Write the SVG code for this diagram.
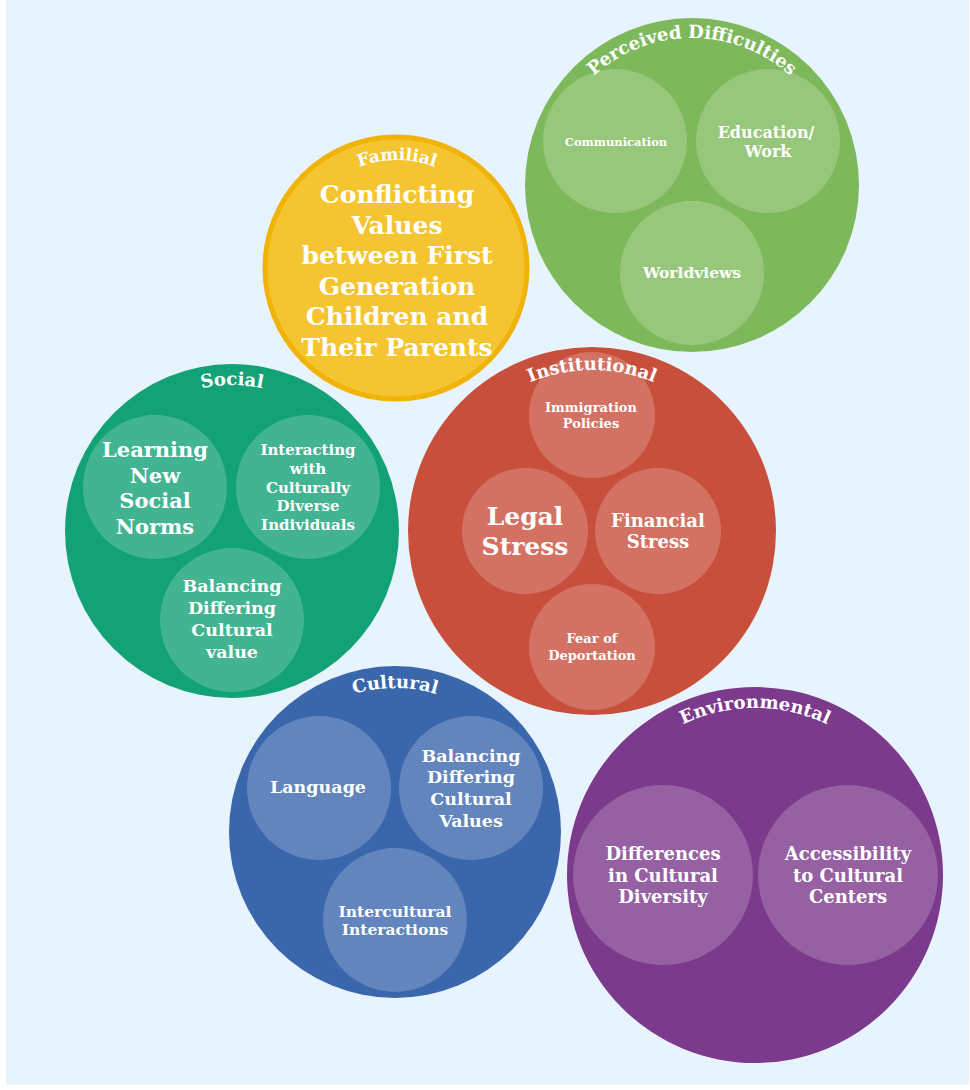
<svg xmlns="http://www.w3.org/2000/svg" width="970" height="1090" viewBox="0 0 970 1090">
<style>
text{font-family:"DejaVu Serif","Liberation Serif",serif;font-weight:bold;fill:#ffffff;text-anchor:middle}
.lbl{font-size:18px}
.inner{fill-opacity:0.2;fill:#ffffff}
</style>
<defs>
<path id="arcPD" d="M545,185 A147,147 0 0 1 839,185"/>
<path id="arcFa" d="M289,268 A108,108 0 0 1 505,268"/>
<path id="arcSo" d="M86,531 A146,146 0 0 1 378,531"/>
<path id="arcIn" d="M431,531 A161,161 0 0 1 753,531"/>
<path id="arcCu" d="M251,832 A144,144 0 0 1 539,832"/>
<path id="arcEn" d="M588,875 A167,167 0 0 1 922,875"/>
</defs>
<rect x="0" y="0" width="970" height="1090" fill="#ffffff"/>
<rect x="6" y="0" width="963" height="1085" fill="#E8F4FD"/>
<g id="connectors"/>
<g id="perceived">
<circle cx="692" cy="185" r="167" fill="#7DB95B"/>
<circle class="inner" cx="615" cy="141" r="72"/>
<circle class="inner" cx="768" cy="141" r="72"/>
<circle class="inner" cx="692" cy="273" r="72"/>
<text class="lbl" font-size="17.5"><textPath href="#arcPD" startOffset="50%">Perceived Difficulties</textPath></text>
<text x="616" y="146" font-size="11.5">Communication</text>
<text x="766" y="138" font-size="16">Education/</text>
<text x="768" y="157" font-size="16">Work</text>
<text x="692" y="278" font-size="15.5">Worldviews</text>
</g>
<g id="familial">
<circle cx="396" cy="268" r="131" fill="#F4C531" stroke="#EFB30A" stroke-width="5"/>
<text style="font-size:17px"><textPath href="#arcFa" startOffset="50%">Familial</textPath></text>
<text x="397" y="203" font-size="25">Conflicting</text>
<text x="397" y="233.5" font-size="25">Values</text>
<text x="397" y="264" font-size="25">between First</text>
<text x="397" y="294.5" font-size="25">Generation</text>
<text x="397" y="325" font-size="25">Children and</text>
<text x="397" y="355.5" font-size="25">Their Parents</text>
</g>
<g id="social">
<circle cx="232" cy="531" r="167" fill="#13A276"/>
<circle class="inner" cx="155" cy="487" r="72"/>
<circle class="inner" cx="308" cy="487" r="72"/>
<circle class="inner" cx="232" cy="620" r="72"/>
<text class="lbl"><textPath href="#arcSo" startOffset="50%">Social</textPath></text>
<text x="155" y="457" font-size="21">Learning</text>
<text x="155" y="482.5" font-size="21">New</text>
<text x="155" y="508" font-size="21">Social</text>
<text x="155" y="533.5" font-size="21">Norms</text>
<text x="308" y="455" font-size="15">Interacting</text>
<text x="308" y="474" font-size="15">with</text>
<text x="308" y="492.5" font-size="15">Culturally</text>
<text x="308" y="511" font-size="15">Diverse</text>
<text x="308" y="530" font-size="15">Individuals</text>
<text x="232" y="592" font-size="17.5">Balancing</text>
<text x="232" y="614" font-size="17.5">Differing</text>
<text x="232" y="636" font-size="17.5">Cultural</text>
<text x="232" y="658" font-size="17.5">value</text>
</g>
<g id="institutional">
<circle cx="592" cy="531" r="184" fill="#C94F3D"/>
<circle class="inner" cx="592" cy="415" r="63"/>
<circle class="inner" cx="525" cy="531" r="63"/>
<circle class="inner" cx="658" cy="531" r="63"/>
<circle class="inner" cx="592" cy="647" r="63"/>
<text class="lbl"><textPath href="#arcIn" startOffset="50%">Institutional</textPath></text>
<text x="591" y="412" font-size="13">Immigration</text>
<text x="591" y="428" font-size="13">Policies</text>
<text x="525" y="525" font-size="25">Legal</text>
<text x="525" y="555" font-size="25">Stress</text>
<text x="658" y="527" font-size="18">Financial</text>
<text x="658" y="548" font-size="18">Stress</text>
<text x="592" y="643" font-size="13">Fear of</text>
<text x="592" y="660" font-size="13">Deportation</text>
</g>
<g id="cultural">
<circle cx="395" cy="832" r="166" fill="#3A67AC"/>
<circle class="inner" cx="319" cy="788" r="72"/>
<circle class="inner" cx="471" cy="788" r="72"/>
<circle class="inner" cx="395" cy="920" r="72"/>
<text class="lbl"><textPath href="#arcCu" startOffset="50%">Cultural</textPath></text>
<text x="318" y="793" font-size="17.5">Language</text>
<text x="471" y="762" font-size="17.5">Balancing</text>
<text x="471" y="783" font-size="17.5">Differing</text>
<text x="471" y="805" font-size="17.5">Cultural</text>
<text x="471" y="827" font-size="17.5">Values</text>
<text x="395" y="917" font-size="15.5">Intercultural</text>
<text x="395" y="935" font-size="15.5">Interactions</text>
</g>
<g id="environmental">
<circle cx="755" cy="875" r="188" fill="#7B3A8B"/>
<circle class="inner" cx="663" cy="875" r="90"/>
<circle class="inner" cx="848" cy="875" r="90"/>
<text class="lbl"><textPath href="#arcEn" startOffset="50%">Environmental</textPath></text>
<text x="663" y="860" font-size="18">Differences</text>
<text x="663" y="882" font-size="18">in Cultural</text>
<text x="663" y="903" font-size="18">Diversity</text>
<text x="848" y="860" font-size="18">Accessibility</text>
<text x="848" y="882" font-size="18">to Cultural</text>
<text x="848" y="903" font-size="18">Centers</text>
</g>
</svg>
